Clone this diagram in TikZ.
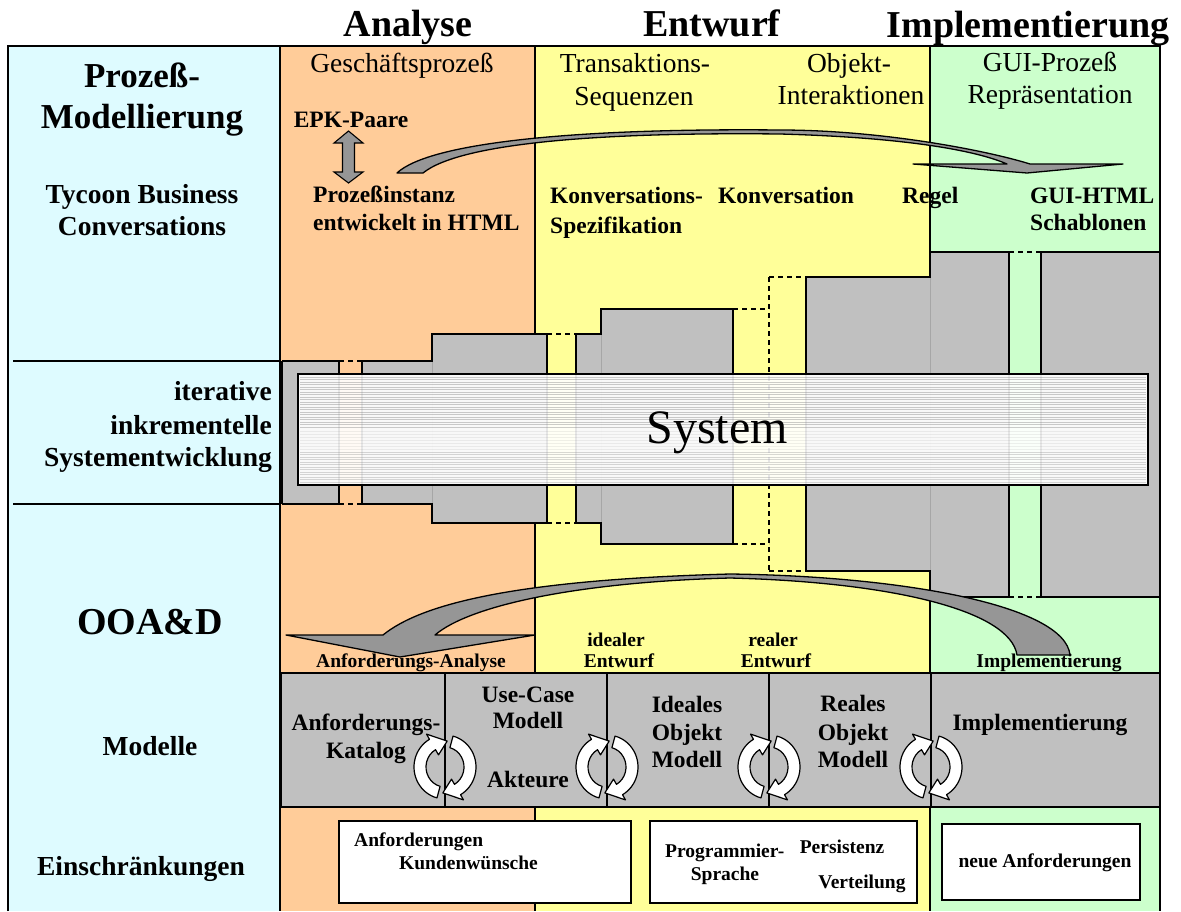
\documentclass[tikz,border=0pt]{standalone}
\usepackage{fontspec}
\setmainfont{Liberation Serif}
\definecolor{leftcol}{RGB}{222,251,255}
\definecolor{anacol}{RGB}{255,204,153}
\definecolor{entcol}{RGB}{255,255,153}
\definecolor{impcol}{RGB}{204,255,204}
\definecolor{blockgrey}{RGB}{192,192,192}
\definecolor{arrowgrey}{RGB}{150,150,150}
\tikzset{
  cycarrow/.style={fill=white, draw=black, line width=1.2pt, line join=round},
  cycpair/.pic={
    \draw[cycarrow] (255:31pt and 32pt)
      arc[start angle=255, end angle=120, x radius=31pt, y radius=32pt]
      -- (120:37pt and 38pt) -- (85:25pt and 26pt) -- (120:13pt and 14pt)
      -- (120:19pt and 20pt)
      arc[start angle=120, end angle=255, x radius=19pt, y radius=20pt] -- cycle;
    \draw[cycarrow, rotate=180] (255:31pt and 32pt)
      arc[start angle=255, end angle=120, x radius=31pt, y radius=32pt]
      -- (120:37pt and 38pt) -- (85:25pt and 26pt) -- (120:13pt and 14pt)
      -- (120:19pt and 20pt)
      arc[start angle=120, end angle=255, x radius=19pt, y radius=20pt] -- cycle;
  }
}
\begin{document}
\begin{tikzpicture}[x=1pt, y=-1pt,
  hdr/.style={font=\fontsize{38}{40}\selectfont\bfseries, anchor=base, inner sep=0pt},
  ttl/.style={font=\fontsize{35}{38}\selectfont\bfseries, anchor=base, inner sep=0pt},
  lbl/.style={font=\fontsize{27.5}{30}\selectfont\bfseries, anchor=base, inner sep=0pt},
  subt/.style={font=\fontsize{27.5}{30}\selectfont, anchor=base, inner sep=0pt},
  mid/.style={font=\fontsize{23.5}{26}\selectfont\bfseries, anchor=base, inner sep=0pt},
  sml/.style={font=\fontsize{19.5}{22}\selectfont\bfseries, anchor=base, inner sep=0pt},
  sysl/.style={font=\fontsize{48}{50}\selectfont, anchor=base, inner sep=0pt},
  rule/.style={line width=1.5pt},
  frame/.style={line width=2.5pt},
  blockline/.style={line width=1.5pt, line join=miter},
  gapdash/.style={line width=1.5pt, dash pattern=on 5pt off 4pt},
  stripe/.style={line width=0.5pt, gray},
  curvedarrow/.style={fill=arrowgrey, draw=black, line width=1.3pt, line join=round},
  cbox/.style={draw=black, fill=white, line width=2pt}
]
\useasboundingbox (0,0) rectangle (1181,911);

% column backgrounds
\fill[leftcol] (8,46) rectangle (280,911);
\fill[anacol] (280,46) rectangle (535,911);
\fill[entcol] (535,46) rectangle (930,911);
\fill[impcol] (930,46) rectangle (1160,911);
\draw[rule] (535,46) -- (535,911);
\draw[rule] (930,46) -- (930,911);
\draw[rule] (280,46) -- (280,911);
\draw[rule] (13,361) -- (280,361);
\draw[rule] (13,504) -- (280,504);

% stepped system blocks
\fill[blockgrey] (282,361) rectangle (339,504);
\fill[blockgrey] (362,361) rectangle (432,504);
\fill[blockgrey] (432,334) rectangle (547,523);
\fill[blockgrey] (576,334) rectangle (601,523);
\fill[blockgrey] (601,309) rectangle (733,544);
\fill[blockgrey] (806,277) rectangle (930,571);
\fill[blockgrey] (930,252) rectangle (1009,597);
\fill[blockgrey] (1041,252) rectangle (1160,597);
\draw[gray!70, line width=0.6pt] (432,361) -- (432,504);
\draw[gray!70, line width=0.6pt] (601,334) -- (601,523);
\draw[gray!70, line width=0.6pt] (930,277) -- (930,571);
\draw[blockline] (282,361) -- (339,361) -- (339,504) -- (282,504);
\draw[blockline] (282,361) -- (282,504);
\draw[blockline] (362,504) -- (362,361) -- (432,361) -- (432,334) -- (547,334) -- (547,523)
  -- (432,523) -- (432,504) -- cycle;
\draw[blockline] (576,334) -- (601,334) -- (601,309) -- (733,309) -- (733,544) -- (601,544)
  -- (601,523) -- (576,523) -- cycle;
\draw[blockline] (806,277) -- (930,277) -- (930,252) -- (1009,252) -- (1009,597) -- (930,597)
  -- (930,571) -- (806,571) -- cycle;
\draw[blockline] (1041,252) -- (1160,252) -- (1160,597) -- (1041,597) -- cycle;
% dashed increments
\draw[gapdash] (339,361) -- (362,361);
\draw[gapdash] (339,504) -- (362,504);
\draw[gapdash] (547,334) -- (576,334);
\draw[gapdash] (547,523) -- (576,523);
\draw[gapdash] (733,309) -- (769,309);
\draw[gapdash] (733,544) -- (769,544);
\draw[gapdash] (769,277) -- (769,571);
\draw[gapdash] (769,277) -- (806,277);
\draw[gapdash] (769,571) -- (806,571);
\draw[gapdash] (1009,252) -- (1041,252);
\draw[gapdash] (1009,597) -- (1041,597);

% system bar
\fill[white, fill opacity=0.9] (298,374) rectangle (1148,485);
\foreach \yy in {377,379.5,...,428} \draw[stripe, draw opacity=0.4] (300,\yy) -- (1146,\yy);
\foreach \yy in {431,434,...,450} \draw[stripe, draw opacity=0.12] (300,\yy) -- (1146,\yy);
\foreach \yy in {452,454.5,...,483} \draw[stripe, draw opacity=0.3] (300,\yy) -- (1146,\yy);
\draw[line width=1.8pt] (298,374) rectangle (1148,485);
\node[sysl] (sys) at (717,443) {System};

% model row
\draw[rule, fill=blockgrey] (281,673) rectangle (1160,807);
\draw[rule] (445,673) -- (445,807);
\draw[rule] (607,673) -- (607,807);
\draw[rule] (769,673) -- (769,807);
\draw[rule] (931,673) -- (931,807);

% constraint boxes
\draw[cbox] (339,821) rectangle (631,903);
\draw[cbox] (650,821) rectangle (917,903);
\draw[cbox] (942,824) rectangle (1140,900);

% phase headers
\node[hdr] (h-ana) at (408,36) {Analyse};
\node[hdr] (h-ent) at (712,36) {Entwurf};
\node[hdr] (h-imp) at (1028,37) {Implementierung};

% left column
\node[ttl] (l-pm1) at (142,87) {Prozeß-};
\node[ttl] (l-pm2) at (142,128) {Modellierung};
\node[lbl] (l-tbc1) at (142,203) {Tycoon Business};
\node[lbl] (l-tbc2) at (142,235) {Conversations};
\node[lbl, anchor=base east] (l-it1) at (272,400) {iterative};
\node[lbl, anchor=base east] (l-it2) at (272,434) {inkrementelle};
\node[lbl, anchor=base east] (l-it3) at (272,466) {Systementwicklung};
\node[hdr] (l-ooad) at (150,634) {OOA\&D};
\node[lbl] (l-mod) at (150,755) {Modelle};
\node[lbl] (l-ein) at (141,875) {Einschränkungen};

% analysis column
\node[subt] (a-gp) at (402,72) {Geschäftsprozeß};
\node[mid] (a-epk) at (351,127) {EPK-Paare};
\node[mid, anchor=base west] (a-pi1) at (313,202) {Prozeßinstanz};
\node[mid, anchor=base west] (a-pi2) at (313,230) {entwickelt in HTML};
\draw[curvedarrow, line width=1.1pt, line join=miter] (348.5,131) -- (363,143) -- (354.5,143) -- (354.5,172) -- (363,172)
  -- (348.5,183) -- (334,172) -- (342.5,172) -- (342.5,143) -- (334,143) -- cycle;

% design column
\node[subt] (e-ts1) at (635,72) {Transaktions-};
\node[subt] (e-ts2) at (634,105) {Sequenzen};
\node[subt] (e-oi1) at (849,72) {Objekt-};
\node[subt] (e-oi2) at (851,104) {Interaktionen};
\node[mid, anchor=base west] (e-ks1) at (550,203) {Konversations-};
\node[mid, anchor=base west] (e-ks2) at (550,233) {Spezifikation};
\node[mid, anchor=base west] (e-kon) at (718,203) {Konversation};
\node[mid, anchor=base west] (e-reg) at (902,203) {Regel};

% implementation column
\node[subt] (i-gp1) at (1050,71) {GUI-Prozeß};
\node[subt] (i-gp2) at (1050,103) {Repräsentation};
\node[mid, anchor=base west] (i-gh1) at (1030,203) {GUI-HTML};
\node[mid, anchor=base west] (i-gh2) at (1030,230) {Schablonen};

% labels above the model row
\node[sml] (m-aa) at (411,667) {Anforderungs-Analyse};
\node[sml] (m-ie1) at (616,646) {idealer};
\node[sml] (m-ie2) at (619,667) {Entwurf};
\node[sml] (m-re1) at (773,646) {realer};
\node[sml] (m-re2) at (776,667) {Entwurf};
\node[sml] (m-im) at (1049,667) {Implementierung};

% model names
\node[mid] (k-ak1) at (366,730) {Anforderungs-};
\node[mid] (k-ak2) at (366,758) {Katalog};
\node[mid] (k-uc1) at (528,702) {Use-Case};
\node[mid] (k-uc2) at (528,728) {Modell};
\node[mid] (k-uc3) at (528,787) {Akteure};
\node[mid] (k-io1) at (687,712) {Ideales};
\node[mid] (k-io2) at (687,740) {Objekt};
\node[mid] (k-io3) at (687,767) {Modell};
\node[mid] (k-ro1) at (853,711) {Reales};
\node[mid] (k-ro2) at (853,740) {Objekt};
\node[mid] (k-ro3) at (853,767) {Modell};
\node[mid] (k-imp) at (1040,730) {Implementierung};

% iteration cycles between the models
\pic at (445,767) {cycpair};
\pic at (607,767) {cycpair};
\pic at (769,767) {cycpair};
\pic at (931,767) {cycpair};

% constraint texts
\node[sml, anchor=base west] (c-an) at (354,846) {Anforderungen};
\node[sml, anchor=base west] (c-kw) at (399,869) {Kundenwünsche};
\node[sml, anchor=base west] (c-ps1) at (665,857) {Programmier-};
\node[sml] (c-ps2) at (725,880) {Sprache};
\node[sml] (c-per) at (842,853) {Persistenz};
\node[sml] (c-ver) at (862,888) {Verteilung};
\node[sml] (c-neu) at (1045,867) {neue Anforderungen};

% process instance towards GUI templates
\draw[curvedarrow] (397,173) .. controls (430,142) and (580,128) .. (780,130)
  .. controls (880,130) and (985,150) .. (1030,164)
  -- (1123,164) -- (1027,173) -- (913,164) -- (1007,164)
  .. controls (970,148) and (890,137) .. (780,134)
  .. controls (600,132) and (460,143) .. (423,173) -- cycle;

% implementation back to requirements analysis
\draw[curvedarrow] (435,635) -- (535,635) -- (400,657) -- (286,635) -- (383,635)
  .. controls (420,605) and (510,580) .. (730,574)
  .. controls (900,576) and (1065,605) .. (1070,655)
  -- (1017,655)
  .. controls (1010,610) and (890,582) .. (730,578)
  .. controls (580,582) and (470,605) .. (435,635) -- cycle;

% outer frame
\draw[frame] (8,911) -- (8,46) -- (1160,46) -- (1160,911);
\end{tikzpicture}
\end{document}
